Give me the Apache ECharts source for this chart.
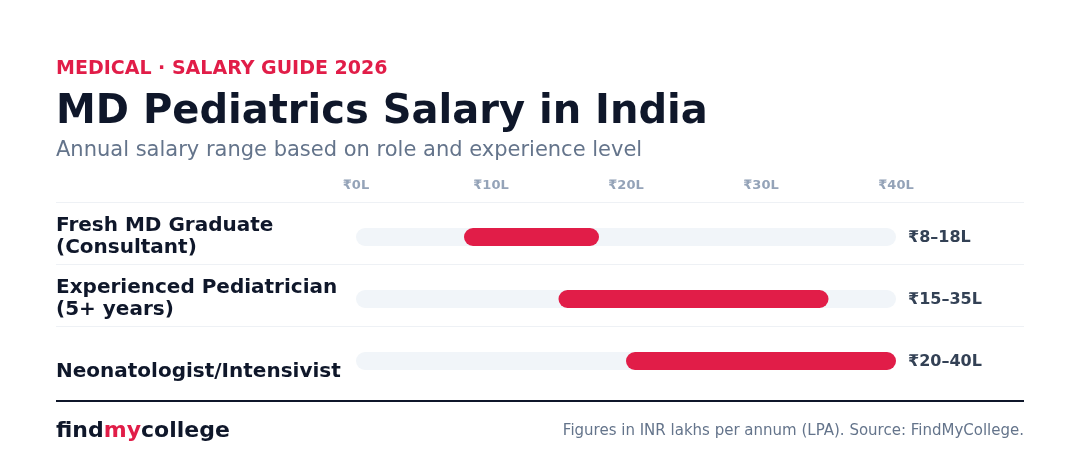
<!DOCTYPE html>
<html>
<head>
<meta charset="utf-8">
<script src="https://cdn.jsdelivr.net/npm/echarts@6/dist/echarts.min.js"></script>
<style>
  html, body { margin: 0; padding: 0; background: #ffffff; }
  #chart { width: 1080px; height: 474px; }
</style>
</head>
<body>
<div id="chart"></div>
<script>
const categories = ['Fresh MD Graduate\n(Consultant)', 'Experienced Pediatrician\n(5+ years)', '\nNeonatologist/Intensivist'];
const lowValues = [8, 15, 20];
const highValues = [18, 35, 40];
const rangeLabels = ['₹8–18L', '₹15–35L', '₹20–40L'];
const tickLabels = ['₹0L', '₹10L', '₹20L', '₹30L', '₹40L'];
const axisMin = 0, axisMax = 40, axisStep = 10;

const FONT = 'DejaVu Sans';
const chart = echarts.init(document.getElementById('chart'), null, { renderer: 'canvas' });

const data = categories.map((c, i) => [i, lowValues[i], highValues[i], rangeLabels[i]]);

const option = {
  backgroundColor: '#ffffff',
  animation: false,
  textStyle: { fontFamily: FONT },
  title: [
    { text: 'MEDICAL · SALARY GUIDE 2026', left: 51, top: 55,
      textStyle: { fontFamily: FONT, fontSize: 19, fontWeight: 'bold', color: '#e11d48' } },
    { text: 'MD Pediatrics Salary in India', left: 51, top: 88,
      textStyle: { fontFamily: FONT, fontSize: 40, fontWeight: 'bold', color: '#0f172a' } },
    { text: 'Annual salary range based on role and experience level', left: 51, top: 135,
      textStyle: { fontFamily: FONT, fontSize: 21, fontWeight: 'normal', color: '#64748b' } },
    { text: '{a|find}{b|my}{a|college}', left: 51, top: 415,
      textStyle: { rich: {
        a: { fontFamily: FONT, fontSize: 22, fontWeight: 'bold', color: '#0f172a' },
        b: { fontFamily: FONT, fontSize: 22, fontWeight: 'bold', color: '#e11d48' } } } },
    { text: 'Figures in INR lakhs per annum (LPA). Source: FindMyCollege.', right: 51, top: 419,
      textStyle: { fontFamily: FONT, fontSize: 15, fontWeight: 'normal', color: '#64748b' } }
  ],
  grid: { left: 356, width: 540, top: 206, height: 186 },
  xAxis: {
    type: 'value', position: 'top', min: axisMin, max: axisMax, interval: axisStep,
    axisLine: { show: false }, axisTick: { show: false }, splitLine: { show: false },
    axisLabel: {
      margin: 14, fontFamily: FONT, fontSize: 13, fontWeight: 'bold', color: '#94a3b8',
      formatter: (v) => tickLabels[Math.round((v - axisMin) / axisStep)]
    }
  },
  yAxis: {
    type: 'category', data: categories, inverse: true,
    axisLine: { show: false }, axisTick: { show: false }, splitLine: { show: false },
    axisLabel: {
      margin: 300, align: 'left', fontFamily: FONT, fontSize: 20, fontWeight: 'bold',
      color: '#0f172a', lineHeight: 22
    }
  },
  series: [{
    type: 'custom',
    data: data,
    encode: { x: [1, 2], y: 0 },
    renderItem: function (params, api) {
      const idx = api.value(0);
      const lo = api.coord([api.value(1), idx]);
      const hi = api.coord([api.value(2), idx]);
      const t0 = api.coord([axisMin, idx]);
      const t1 = api.coord([axisMax, idx]);
      const h = 18;
      const y = t0[1] - h / 2;
      return {
        type: 'group',
        children: [
          { type: 'rect', shape: { x: t0[0], y: y, width: t1[0] - t0[0], height: h, r: 9 },
            style: { fill: '#f1f5f9' } },
          { type: 'rect', shape: { x: lo[0], y: y, width: hi[0] - lo[0], height: h, r: 9 },
            style: { fill: '#e11d48' } },
          { type: 'text', x: t1[0] + 12, y: t0[1] + 1,
            style: { text: api.value(3), fontFamily: FONT, fontSize: 16, fontWeight: 'bold',
              fill: '#334155', verticalAlign: 'middle', align: 'left' } }
        ]
      };
    }
  }]
};
chart.setOption(option);

// separators between rows and footer rule, positioned from the category scale
const graphics = [];
categories.forEach((c, i) => {
  const p = chart.convertToPixel({ gridIndex: 0 }, [axisMin, i]);
  graphics.push({ type: 'line', shape: { x1: 56, y1: Math.round(p[1] - 35) + 0.5, x2: 1024, y2: Math.round(p[1] - 35) + 0.5 },
    style: { stroke: '#eef1f5', lineWidth: 1 } });
});
const last = chart.convertToPixel({ gridIndex: 0 }, [axisMin, categories.length - 1]);
graphics.push({ type: 'line', shape: { x1: 56, y1: last[1] + 40, x2: 1024, y2: last[1] + 40 },
  style: { stroke: '#0f172a', lineWidth: 2 } });
chart.setOption({ graphic: graphics });
</script>
</body>
</html>
